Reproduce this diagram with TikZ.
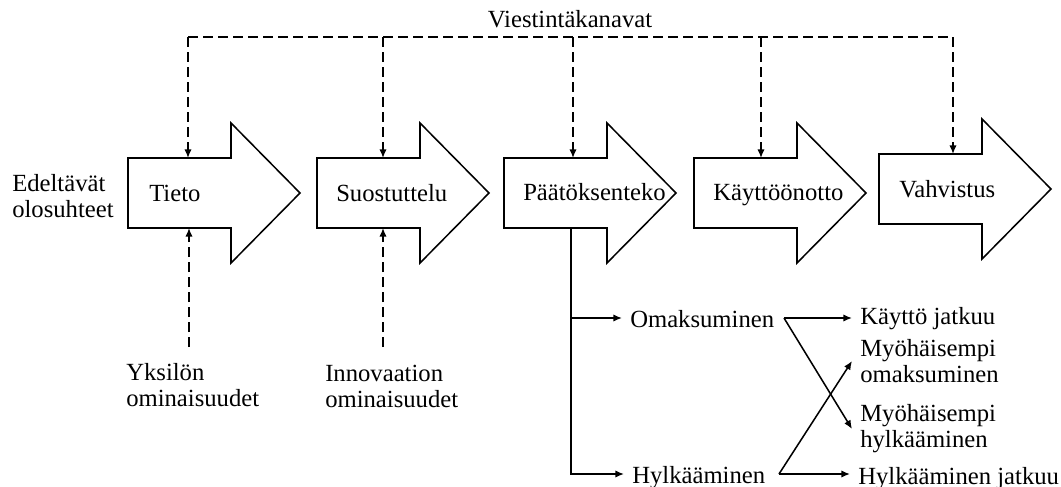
\documentclass[tikz,border=0pt]{standalone}
\usepackage{fontspec}
\setmainfont{Liberation Serif}
\usetikzlibrary{arrows.meta}
\newcommand\stagearrow[2]{%
  \draw[stage] (#1,#2-35) -- ++(103,0) -- ++(0,-35) -- (#1+172,#2)
    -- (#1+103,#2+70) -- ++(0,-35) -- (#1,#2+35) -- cycle;}
\begin{document}
\begin{tikzpicture}[x=0.75pt,y=-0.75pt,
  font=\fontsize{18.5}{19.5}\selectfont,
  every node/.style={inner sep=0pt},
  stage/.style={draw, line width=1.15pt, fill=white, line join=miter},
  conn/.style={line width=1.15pt, -{Latex[length=6.5pt,width=5.5pt]}},
  dconn/.style={conn, dash pattern=on 7.5pt off 3.75pt},
  lbl/.style={anchor=base west, inner xsep=6pt, inner ysep=0pt, text height=13.5pt, text depth=0pt},
  ml/.style={anchor=west, align=left, inner xsep=6pt, inner ysep=0pt}]
\useasboundingbox (0,0) rectangle (1061,486);

% stage arrows
\stagearrow{128}{193}
\stagearrow{317}{193}
\stagearrow{504}{193}
\stagearrow{694}{193}
\stagearrow{879}{189}

% stage labels
\node[anchor=base west] (tieto) at (149,201) {Tieto};
\node[anchor=base west] (suos) at (336,201) {Suostuttelu};
\node[anchor=base west] (paat) at (523,200) {Päätöksenteko};
\node[anchor=base west] (kayt) at (713,200) {Käyttöönotto};
\node[anchor=base west] (vahv) at (899,197) {Vahvistus};

% other labels
\node[anchor=base] (vies) at (570,27) {Viestintäkanavat};
\node[align=left, anchor=west] (edel) at (12,196.5) {Edeltävät\\olosuhteet};
\node[align=left, anchor=west] (yks) at (126,385.5) {Yksilön\\ominaisuudet};
\node[align=left, anchor=west] (inn) at (325,386) {Innovaation\\ominaisuudet};

\node[lbl] (oma) at (622,327) {Omaksuminen};
\node[lbl] (hyl) at (624,483) {Hylkääminen};
\node[lbl] (kj) at (852,324) {Käyttö jatkuu};
\node[ml] (mo) at (852,361) {Myöhäisempi\\omaksuminen};
\node[ml] (mh) at (852,429) {Myöhäisempi\\hylkääminen};
\node[lbl] (hjt) at (850,484) {Hylkääminen jatkuu};

% coordinates
\coordinate (t1) at (188,37);
\coordinate (t2) at (383,37);
\coordinate (t3) at (573,37);
\coordinate (t4) at (761,37);
\coordinate (t5) at (953,37);
\coordinate (a1t) at (188,158);
\coordinate (a2t) at (383,158);
\coordinate (a3t) at (573,158);
\coordinate (a4t) at (761,158);
\coordinate (a5t) at (953,154);
\coordinate (a1b) at (189,228);
\coordinate (a2b) at (383,228);
\coordinate (y1) at (189,347);
\coordinate (y2) at (383,347);
\coordinate (pbot) at (571,228);
\coordinate (oj) at (784,318);
\coordinate (hj) at (779,474);

% communication channels
\draw[dconn] (t1) -- (t5) -- (a5t);
\draw[dconn] (t1) -- (a1t);
\draw[dconn] (t2) -- (a2t);
\draw[dconn] (t3) -- (a3t);
\draw[dconn] (t4) -- (a4t);

% characteristics
\draw[dconn] (y1) -- (a1b);
\draw[dconn] (y2) -- (a2b);

% decision outcomes
\draw[conn] (pbot) |- (oma.west);
\draw[conn] (pbot) |- (hyl.west);
\draw[conn] (oj) -- (oj -| kj.west);
\draw[conn] (oj) -- (mh.west);
\draw[conn] (hj) -- (mo.west);
\draw[conn] (hj) -- (hj -| hjt.west);
\end{tikzpicture}
\end{document}
